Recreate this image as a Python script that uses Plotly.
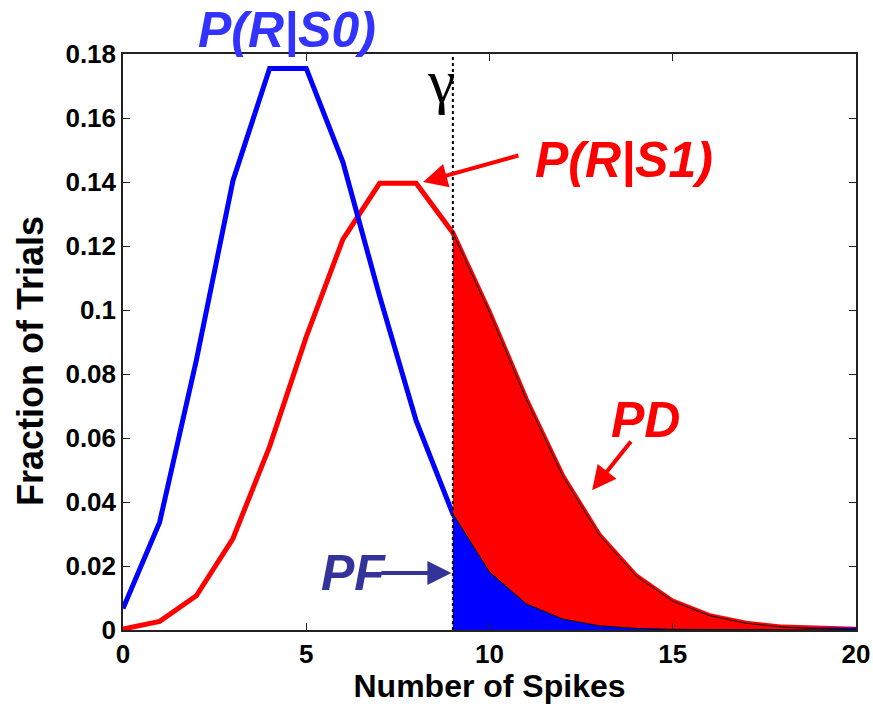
import plotly.graph_objects as go

# Spike-count distributions under the two stimuli
spikes = list(range(21))
p_r_s0 = [0.0067, 0.0337, 0.0842, 0.1404, 0.1755, 0.1755, 0.1462, 0.1044, 0.0653,
          0.0363, 0.0181, 0.0082, 0.0034, 0.0013, 0.0005, 0.0002, 0.0001, 0.0, 0.0, 0.0, 0.0]
p_r_s1 = [0.0003, 0.0027, 0.0107, 0.0286, 0.0573, 0.0916, 0.1221, 0.1396, 0.1396,
          0.1241, 0.0993, 0.0722, 0.0481, 0.0296, 0.0169, 0.0090, 0.0045, 0.0021,
          0.0009, 0.0004, 0.0002]
threshold = 9

x_ticks = [0, 5, 10, 15, 20]
y_ticks = [0, 0.02, 0.04, 0.06, 0.08, 0.1, 0.12, 0.14, 0.16, 0.18]
y_tick_text = ["0", "0.02", "0.04", "0.06", "0.08", "0.1", "0.12", "0.14", "0.16", "0.18"]

tail_x = [s for s in spikes if s >= threshold]
tail_s0 = [p for s, p in zip(spikes, p_r_s0) if s >= threshold]
tail_s1 = [p for s, p in zip(spikes, p_r_s1) if s >= threshold]

fig = go.Figure()
fig.add_trace(go.Scatter(x=spikes, y=p_r_s1, mode="lines",
                         line=dict(color="#ff0000", width=5), hoverinfo="skip"))
fig.add_trace(go.Scatter(x=spikes, y=p_r_s0, mode="lines",
                         line=dict(color="#0000ff", width=5), hoverinfo="skip"))
# Shaded tails beyond the threshold: detection (red) and false alarm (blue)
fig.add_trace(go.Scatter(x=tail_x, y=tail_s1, mode="lines", fill="tozeroy",
                         fillcolor="#ff0000", line=dict(color="black", width=1),
                         hoverinfo="skip"))
fig.add_trace(go.Scatter(x=tail_x, y=tail_s0, mode="lines", fill="tozeroy",
                         fillcolor="#0000ff", line=dict(color="black", width=1),
                         hoverinfo="skip"))

fig.add_shape(type="line", x0=threshold, x1=threshold, y0=0, y1=0.18, xref="x", yref="y",
              line=dict(color="black", width=2, dash="dot"))

lab = dict(family="Liberation Sans, Arial, sans-serif", size=50)
mid = dict(showarrow=False, xanchor="center", yanchor="middle")
fig.add_annotation(x=4.47, y=1.042, xref="x", yref="paper", text="<b><i>P(R|S0)</i></b>",
                   font=dict(lab, color="#3333ff"), **mid)
fig.add_annotation(x=13.67, y=0.1469, text="<b><i>P(R|S1)</i></b>",
                   font=dict(lab, color="#ff0000"), **mid)
fig.add_annotation(x=14.26, y=0.0656, text="<b><i>PD</i></b>",
                   font=dict(lab, color="#ff0000"), **mid)
fig.add_annotation(x=6.3, y=0.0178, text="<b><i>PF</i></b>",
                   font=dict(lab, color="#333399"), **mid)
fig.add_annotation(x=8.68, y=0.1717, text="γ",
                   font=dict(family="Liberation Serif, Times New Roman, serif", size=62,
                             color="black"), **mid)

# Vertical axis title placed as rotated text
fig.add_annotation(x=-0.127, y=0.467, xref="paper", yref="paper",
                   text="<b>Fraction of Trials</b>", textangle=-90,
                   font=dict(family="Liberation Sans, Arial, sans-serif", size=36,
                             color="black"), **mid)

arrows = [
    (8.19, 0.140, 10.83, 0.1484, "#ff0000"),
    (12.80, 0.0437, 13.89, 0.0594, "#ff0000"),
    (8.96, 0.0178, 7.01, 0.0178, "#333399"),
]
for hx, hy, tx, ty, c in arrows:
    fig.add_annotation(x=hx, y=hy, ax=tx, ay=ty, xref="x", yref="y", axref="x", ayref="y",
                       text="", showarrow=True, arrowhead=2, arrowsize=1.2,
                       arrowwidth=4, arrowcolor=c)

tick_font = dict(family="Liberation Sans, Arial, sans-serif", size=26, color="black")
axis_common = dict(showgrid=False, zeroline=False, showline=True, linecolor="#222222",
                   linewidth=1.5, mirror="ticks", ticks="inside", ticklen=7,
                   tickcolor="#222222", tickfont=tick_font)

fig.update_xaxes(range=[0, 20], tickvals=x_ticks,
                 ticktext=[f"<b>{v}</b>" for v in x_ticks],
                 title=dict(text="<b>Number of Spikes</b>", standoff=6,
                            font=dict(family="Liberation Sans, Arial, sans-serif",
                                      size=32, color="black")),
                 **axis_common)
fig.update_yaxes(range=[0, 0.18], tickvals=y_ticks,
                 ticktext=[f"<b>{t}</b>" for t in y_tick_text],
                 **axis_common)

fig.update_layout(width=873, height=704, showlegend=False,
                  margin=dict(l=123, r=17, t=54, b=74, autoexpand=False),
                  plot_bgcolor="white", paper_bgcolor="white")

fig.write_html("out.html")
